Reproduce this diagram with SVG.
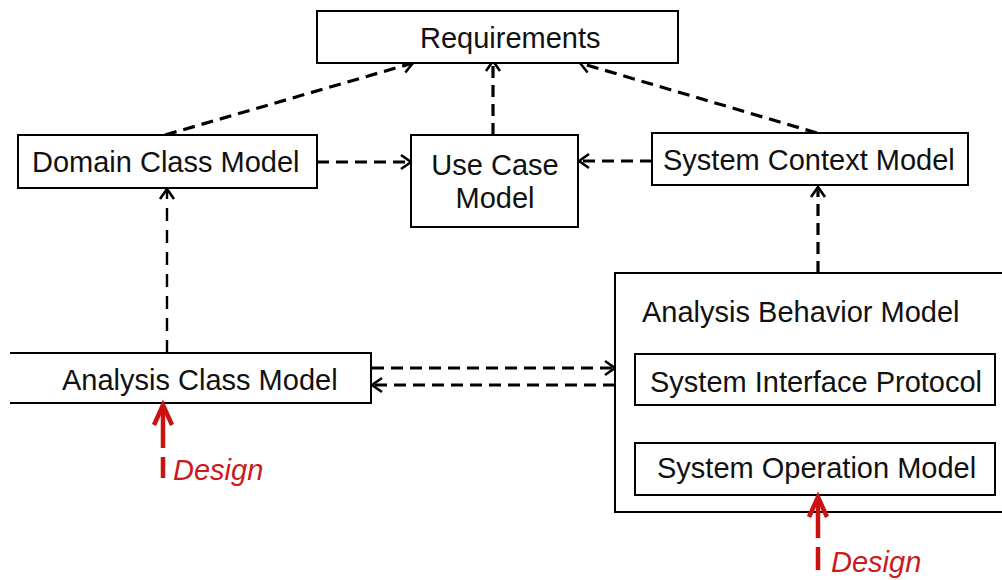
<svg xmlns="http://www.w3.org/2000/svg" width="1002" height="580" viewBox="0 0 1002 580">
<style>
.box{fill:#fff;stroke:#000;stroke-width:2}
.t{font-family:"Liberation Sans",Arial,sans-serif;font-size:29px;fill:#111}
.d{font-family:"Liberation Sans",Arial,sans-serif;font-size:29px;font-style:italic;fill:#cc1a1a}
.c{fill:none;stroke:#000;stroke-width:3.2;stroke-dasharray:12 7}
.thin{stroke-width:2.4;stroke-dasharray:13 9}
.red{fill:none;stroke:#cc1111;stroke-width:4.5}
</style>
<defs>
<marker id="open" markerUnits="userSpaceOnUse" markerWidth="20" markerHeight="20" viewBox="-12 -10 14 20" refX="0" refY="0" orient="auto" overflow="visible">
<path d="M-10,-7 L0,0 L-10,7" fill="none" stroke="#000" stroke-width="2.6"/>
</marker>
</defs>
<g id="connectors">
<path class="c" d="M165,135 L413,63" marker-end="url(#open)"/>
<path class="c" d="M493,135 L493,61" marker-end="url(#open)"/>
<path class="c" d="M817,133 L580,63" marker-end="url(#open)"/>
<path class="c" d="M317,162 L411,162" marker-end="url(#open)"/>
<path class="c" d="M652,161 L579,161" marker-end="url(#open)"/>
<path class="c thin" d="M167,353 L167,189" marker-end="url(#open)"/>
<path class="c" d="M818,273 L818,187" marker-end="url(#open)"/>
<path class="c" d="M372,368 L615,368" marker-end="url(#open)"/>
<path class="c" d="M615,385 L372,385" marker-end="url(#open)"/>
</g>
<g id="requirements">
<rect class="box" x="317" y="11" width="361" height="52"/>
<text class="t" x="420" y="48">Requirements</text>
</g>
<g id="domain-class-model">
<rect class="box" x="18" y="135" width="299" height="53"/>
<text class="t" x="32" y="172">Domain Class Model</text>
</g>
<g id="use-case-model">
<rect class="box" x="411" y="135" width="167" height="92"/>
<text class="t" x="495" y="175" text-anchor="middle">Use Case</text>
<text class="t" x="495" y="208" text-anchor="middle">Model</text>
</g>
<g id="system-context-model">
<rect class="box" x="652" y="133" width="316" height="52"/>
<text class="t" x="663" y="170">System Context Model</text>
</g>
<g id="analysis-behavior-model">
<path d="M1004,273 L615,273 L615,512 L1004,512" fill="#fff" stroke="#000" stroke-width="2"/>
<text class="t" x="642" y="322">Analysis Behavior Model</text>
</g>
<g id="system-interface-protocol">
<rect class="box" x="635" y="354" width="360" height="51"/>
<text class="t" x="650" y="392">System Interface Protocol</text>
</g>
<g id="system-operation-model">
<rect class="box" x="635" y="443" width="360" height="52"/>
<text class="t" x="657" y="478">System Operation Model</text>
</g>
<g id="analysis-class-model">
<path d="M10,353 L371,353 L371,403 L10,403" fill="#fff" stroke="#000" stroke-width="2"/>
<text class="t" x="62" y="390">Analysis Class Model</text>
</g>
<g id="design-1">
<path class="red" d="M163,407 L163,448 M163,457 L163,478"/>
<polyline class="red" points="154,425 163,405 172,425"/>
<text class="d" x="173" y="480">Design</text>
</g>
<g id="design-2">
<path class="red" d="M818,499 L818,538 M818,547 L818,570"/>
<polyline class="red" points="809,517 818,497 827,517"/>
<text class="d" x="831" y="572">Design</text>
</g>
</svg>
